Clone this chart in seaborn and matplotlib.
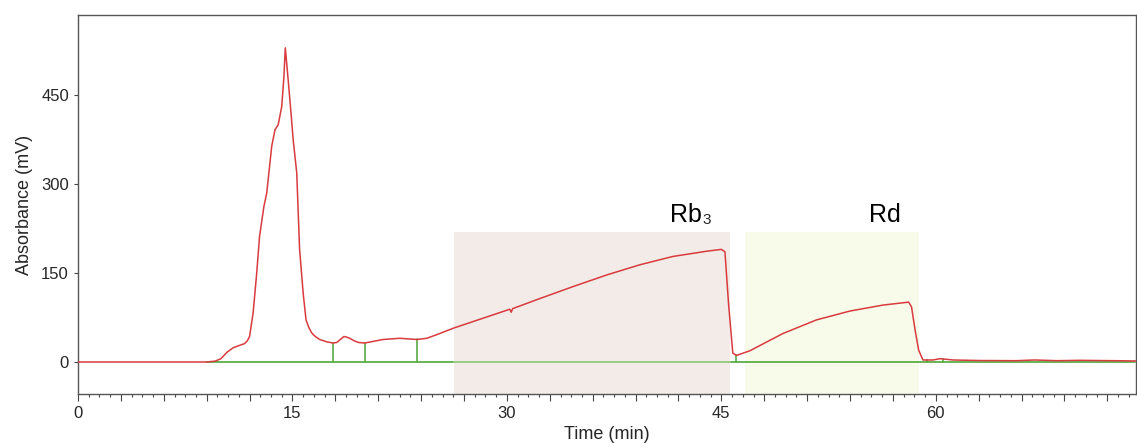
import numpy as np
import pandas as pd
import matplotlib
matplotlib.use("Agg")
import matplotlib.pyplot as plt
from matplotlib.ticker import MultipleLocator, FuncFormatter
import seaborn as sns

# chromatogram trace
time_min = [0.0, 9.0, 9.6, 10.0, 10.4, 10.85, 11.3, 11.65, 11.85, 12.0, 12.25, 12.5, 12.7,
            13.0, 13.2, 13.4, 13.55, 13.78, 14.0, 14.25, 14.4, 14.5, 14.7, 14.9, 15.05,
            15.3, 15.5, 15.75, 15.95, 16.15, 16.35, 16.6, 16.9, 17.4,
            17.85, 18.1, 18.4, 18.6, 18.8, 19.0, 19.3, 19.6, 20.05, 21.35, 22.5, 23.7,
            24.4, 25.3, 26.25, 28.1, 30.2, 30.3, 30.4, 32.3, 34.6, 37.0, 39.3, 41.6,
            44.0, 45.0, 45.25, 45.5, 45.8, 46.05, 47.0, 49.3, 51.65, 54.0, 56.3,
            58.1, 58.3, 58.55, 58.8, 59.1, 59.8, 60.3, 61.2, 63.0, 65.6, 66.9, 68.5,
            70.0, 72.6, 74.0]
absorbance = [0.0, 0.0, 1.5, 5.6, 16, 24, 28, 31, 36, 43, 83, 150, 212,
              262, 285, 330, 364, 392, 400, 431, 480, 530, 476, 420, 375,
              319, 190, 116, 71, 58, 49, 43, 38, 34,
              32, 33, 39, 43, 42, 40, 36, 33, 32, 38, 40, 38,
              40, 48, 57, 72, 89, 84, 90, 107, 127, 147, 164, 178,
              187, 190, 186, 99, 15, 11, 19, 48, 71, 86, 96,
              101, 93, 54, 20, 3.4, 3.4, 5.6, 3.4, 2.5, 2.2, 3.4, 2.2,
              2.8, 2.2, 1.7]

baseline_start = 9.0
baseline_end = 73.9
drop_lines = [17.85, 20.05, 23.7, 46.05, 59.4, 60.5]

fractions = ["Rb", "Rd"]
fraction_sub = ["3", ""]
fraction_start = [26.3, 46.65]
fraction_end = [45.6, 58.8]
fraction_top = 219
fraction_colors = ["#f2ebe7", "#f8fbea"]
label_x = [41.4, 55.3]
label_y = 237

df = pd.DataFrame({"time": time_min, "abs": absorbance})

sns.set_style("ticks")
plt.rcParams["font.family"] = ["Liberation Sans", "DejaVu Sans"]

fig = plt.figure(figsize=(11.37, 4.43), dpi=100)
ax = fig.add_axes([0.0686, 0.1106, 0.9305, 0.855])

ymin = -54
for start, end, color in zip(fraction_start, fraction_end, fraction_colors):
    ax.fill_between([start, end], ymin, fraction_top, color=color, zorder=0, lw=0)

ax.plot([baseline_start, baseline_end], [0, 0], color="#4fa83a", lw=1.2, zorder=1)
# baseline looks paler under the first fraction
ax.plot([fraction_start[0], fraction_end[0]], [0, 0], color="#a6d38f", lw=1.2, zorder=1.5)
for x in drop_lines:
    h = np.interp(x, time_min, absorbance)
    ax.plot([x, x], [0, h], color="#5aaa45", lw=1.2, zorder=3)

sns.lineplot(data=df, x="time", y="abs", color="#d93a3e", lw=1.1, ax=ax,
             sort=False, zorder=4)

for name, sub, x in zip(fractions, fraction_sub, label_x):
    t = ax.text(x, label_y, name, fontsize=18, color="black", ha="left", va="baseline")
    if sub:
        ax.annotate(sub, xy=(1, 0), xycoords=t, xytext=(0.5, 0),
                    textcoords="offset points", fontsize=11, va="bottom")

ax.set_xlim(0, 74.0)
ax.set_ylim(ymin, 585)
ax.xaxis.set_major_locator(MultipleLocator(3))
ax.xaxis.set_minor_locator(MultipleLocator(0.75))
ax.xaxis.set_major_formatter(FuncFormatter(lambda v, p: f"{v:.0f}" if v % 15 == 0 else ""))
ax.set_yticks([0, 150, 300, 450])
ax.tick_params(axis="x", which="major", length=5, width=0.8, color="#444444", labelsize=12)
ax.tick_params(axis="x", which="minor", length=2.5, width=0.8, color="#444444")
ax.tick_params(axis="y", length=3, width=0.8, color="#444444", labelsize=12)
for s in ax.spines.values():
    s.set_color("#555555")
    s.set_linewidth(1.0)

ax.set_xlabel("Time (min)", fontsize=13, labelpad=4)
ax.set_ylabel("Absorbance (mV)", fontsize=13, labelpad=6)

fig.savefig("out.png", dpi=100)
